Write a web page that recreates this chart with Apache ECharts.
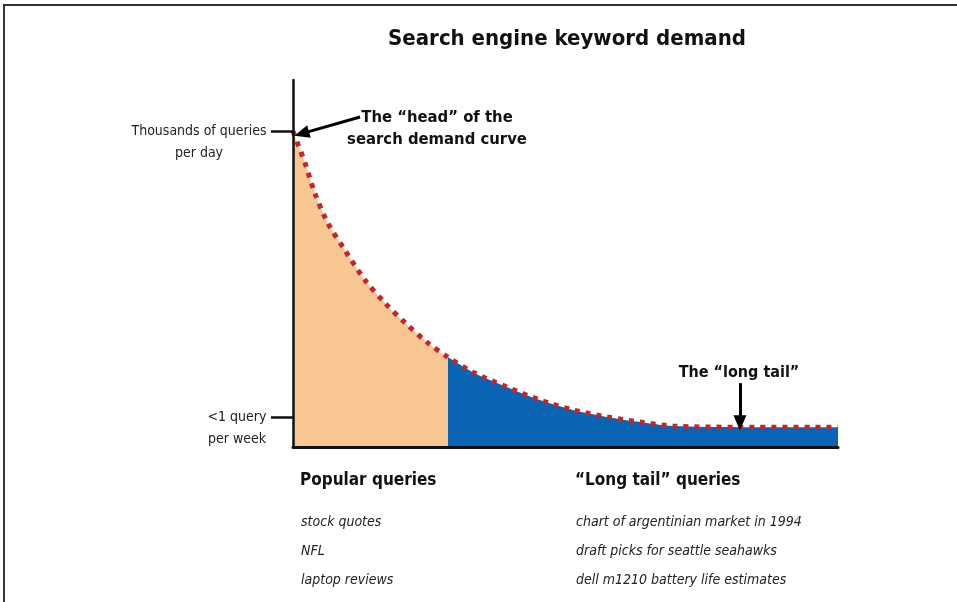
<!DOCTYPE html>
<html>
<head>
<meta charset="utf-8">
<script src="https://cdn.jsdelivr.net/npm/echarts@6/dist/echarts.min.js"></script>
<style>
  html, body { margin: 0; padding: 0; background: #fff; }
  #main { width: 957px; height: 602px; }
</style>
</head>
<body>
<div id="main"></div>
<script>
// query rank (0..100) and relative demand (0..100)
const rank   = [0, 2.2, 4.0, 6.4, 9.5, 13.2, 16.9, 20.6, 24.8, 28.4, 33.0, 39.3, 45.3, 51.4, 57.6, 63.7, 69.7, 82.0, 100];
const demand = [86, 77.4, 69.2, 61.0, 53.7, 45.5, 39.2, 33.8, 28.3, 24.5, 20.4, 16.3, 12.8, 10.1, 8.2, 6.8, 5.7, 5.4, 5.4];
const headEnd = 28.4; // where popular queries stop and the long tail begins

const tickValues = [8, 86];
const tickLabels = { 86: ['Thousands of queries', 'per day'], 8: ['<1 query', 'per week'] };

const popularQueries = ['stock quotes', 'NFL', 'laptop reviews'];
const longTailQueries = ['chart of argentinian market in 1994', 'draft picks for seattle seahawks', 'dell m1210 battery life estimates'];

const FONT = "'Liberation Sans Narrow', 'DejaVu Sans Condensed', 'Arial Narrow', sans-serif";

const chart = echarts.init(document.getElementById('main'));
const split = headEnd / rank[rank.length - 1];

const listText = (x, head, items) => {
  const out = [{
    type: 'text', x: x, y: 481,
    style: { text: head, font: 'bold 17px ' + FONT, fill: '#111', verticalAlign: 'middle' }
  }];
  items.forEach((t, i) => out.push({
    type: 'text', x: x + 1, y: 522 + i * 29,
    style: { text: t, font: 'italic 14px ' + FONT, fill: '#222', verticalAlign: 'middle' }
  }));
  return out;
};

chart.setOption({
  animation: false,
  title: {
    text: 'Search engine keyword demand',
    left: 562, top: 23, textAlign: 'center',
    textStyle: { fontFamily: FONT, fontWeight: 'bold', fontSize: 22, color: '#111' }
  },
  grid: { left: 293, right: 119, top: 80, bottom: 155 },
  xAxis: {
    type: 'value', min: 0, max: 100, z: 10,
    axisLine: { lineStyle: { color: '#111', width: 3 } },
    axisTick: { show: false }, axisLabel: { show: false }, splitLine: { show: false }
  },
  yAxis: {
    type: 'value', min: 0, max: 100, z: 10,
    axisLine: { show: true, lineStyle: { color: '#111', width: 2.5 } },
    splitLine: { show: false },
    axisTick: { show: true, customValues: tickValues, length: 22, lineStyle: { color: '#111', width: 2.5 } },
    axisLabel: {
      customValues: tickValues, margin: 25,
      formatter: v => {
        const [a, b] = tickLabels[v];
        const k = v === 86 ? 'h' : 'w';
        return '{' + k + '| }\n{' + k + '|' + a + '}\n{' + k + '|' + b + '}';
      },
      rich: {
        h: { width: 138, align: 'center', lineHeight: 22, fontSize: 14, fontFamily: FONT, color: '#222' },
        w: { width: 62, align: 'center', lineHeight: 22, fontSize: 14, fontFamily: FONT, color: '#222' }
      }
    }
  },
  series: [{
    type: 'line',
    data: rank.map((r, i) => [r, demand[i]]),
    smooth: 0.3,
    symbol: 'none',
    lineStyle: { color: '#c0272d', width: 5, type: [5, 6] },
    areaStyle: {
      opacity: 1,
      color: new echarts.graphic.LinearGradient(0, 0, 1, 0, [
        { offset: 0, color: '#f8c690' },
        { offset: split, color: '#f8c690' },
        { offset: split, color: '#0a64b4' },
        { offset: 1, color: '#0a64b4' }
      ])
    },
    z: 3,
    markLine: {
      silent: true,
      symbol: ['none', 'triangle'],
      symbolSize: [13, 15],
      label: { show: false },
      lineStyle: { color: '#000', width: 3, type: 'solid' },
      data: [
        [{ coord: [12.3, 89.9] }, { coord: [1.6, 85.4] }],
        [{ coord: [82, 17.4] }, { coord: [82, 6.6] }]
      ]
    }
  }],
  graphic: [
    { type: 'polyline', shape: { points: [[4, 602], [4, 5], [957, 5]] }, style: { stroke: '#333', lineWidth: 2, fill: null } },
    {
      type: 'text', x: 437, y: 129,
      style: { text: 'The \u201chead\u201d of the\nsearch demand curve', font: 'bold 16.5px ' + FONT, fill: '#111', align: 'center', verticalAlign: 'middle', lineHeight: 22 }
    },
    {
      type: 'text', x: 739, y: 373,
      style: { text: 'The \u201clong tail\u201d', font: 'bold 16px ' + FONT, fill: '#111', align: 'center', verticalAlign: 'middle' }
    },
    ...listText(300, 'Popular queries', popularQueries),
    ...listText(575, '\u201cLong tail\u201d queries', longTailQueries)
  ]
});
</script>
</body>
</html>
